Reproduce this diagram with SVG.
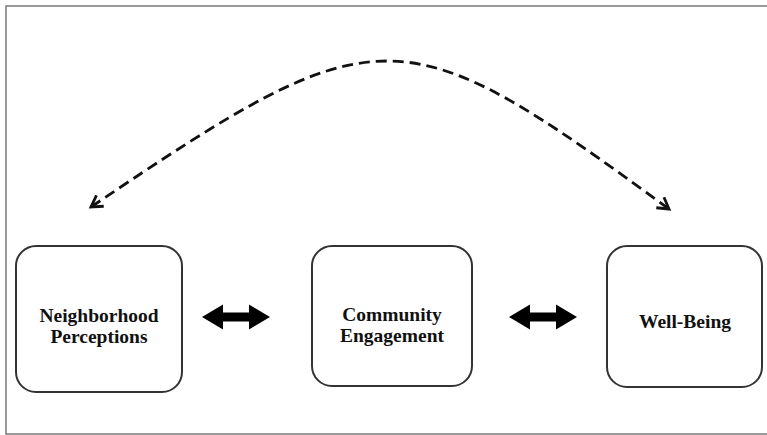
<svg xmlns="http://www.w3.org/2000/svg" width="767" height="435" viewBox="0 0 767 435">
  <style>
    .frame { fill: #ffffff; stroke: #7a7a7a; stroke-width: 1.5; }
    .box { fill: #ffffff; stroke: #333333; stroke-width: 2; }
    .label { font-family: "Liberation Serif", "Times New Roman", serif; font-weight: bold; font-size: 19.5px; fill: #111111; text-anchor: middle; }
    .dashed { fill: none; stroke: #111111; stroke-width: 2.8; stroke-dasharray: 11 6; }
    .bidir { fill: #000000; stroke: none; }
  </style>
  <defs>
    <marker id="openHead" markerUnits="userSpaceOnUse" markerWidth="20" markerHeight="20" viewBox="-14 -10 20 20" refX="0" refY="0" orient="auto-start-reverse">
      <path d="M -11,-6.5 L 0,0 L -11,6.5" fill="none" stroke="#111111" stroke-width="2.8" stroke-linejoin="miter" stroke-dasharray="none"/>
    </marker>
  </defs>

  <!-- outer border -->
  <rect class="frame" x="6" y="6" width="775" height="428"/>

  <g id="node-neighborhood">
    <rect class="box" x="16" y="246" width="166" height="146" rx="20" ry="20"/>
    <text class="label" x="99" y="322">Neighborhood</text>
    <text class="label" x="99" y="343">Perceptions</text>
  </g>

  <g id="node-community">
    <rect class="box" x="312" y="246" width="160" height="140" rx="20" ry="20"/>
    <text class="label" x="392" y="321">Community</text>
    <text class="label" x="392" y="342">Engagement</text>
  </g>

  <g id="node-wellbeing">
    <rect class="box" x="607" y="246" width="155" height="141" rx="20" ry="20"/>
    <text class="label" x="685" y="328">Well-Being</text>
  </g>

  <g id="connectors">
    <!-- curved dashed link between the outer nodes -->
    <path class="dashed" d="M 91,207 C 380,12 400,12 669,209" marker-start="url(#openHead)" marker-end="url(#openHead)"/>
    <!-- thick two-headed arrows between neighbouring nodes -->
    <path class="bidir" d="M 202,317 L 223,304.5 L 223,312.5 L 249,312.5 L 249,304.5 L 270,317 L 249,329.5 L 249,321.5 L 223,321.5 L 223,329.5 Z"/>
    <path class="bidir" d="M 509,317 L 530,304.5 L 530,312.5 L 556,312.5 L 556,304.5 L 577,317 L 556,329.5 L 556,321.5 L 530,321.5 L 530,329.5 Z"/>
  </g>
</svg>
